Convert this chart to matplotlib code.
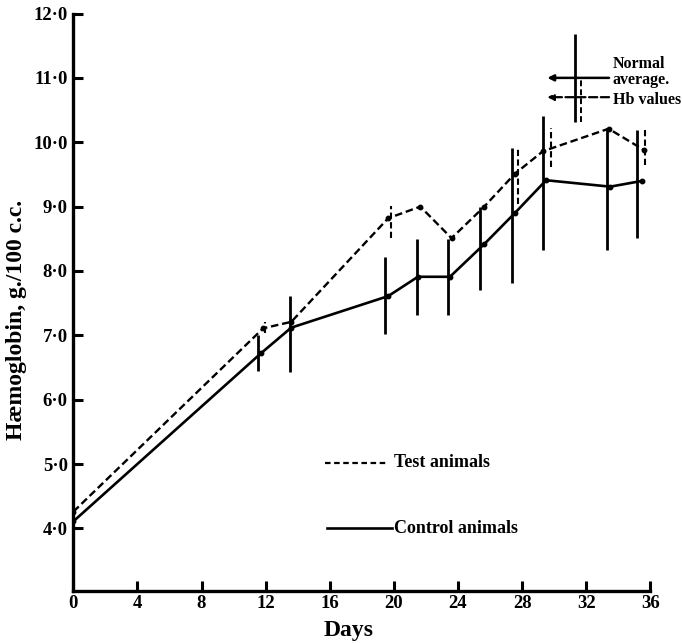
import matplotlib.pyplot as plt

# days and haemoglobin (g./100 c.c.)
control_days = [0, 11.7, 13.6, 19.65, 21.5, 23.5, 25.65, 27.55, 29.5, 33.5, 35.5]
control_hb = [4.11, 6.72, 7.12, 7.61, 7.91, 7.91, 8.42, 8.90, 9.41, 9.31, 9.40]

test_days = [0, 11.85, 13.6, 19.65, 21.65, 23.6, 25.6, 27.55, 29.3, 33.4, 35.6]
test_hb = [4.26, 7.11, 7.21, 8.82, 9.00, 8.51, 8.99, 9.51, 9.86, 10.21, 9.88]

# ranges (vertical bars)
control_bar_days = [11.55, 13.55, 19.45, 21.45, 23.4, 25.4, 27.4, 29.3, 33.3, 35.2]
control_bar_low = [6.44, 6.43, 7.02, 7.31, 7.32, 7.71, 7.82, 8.33, 8.32, 8.51]
control_bar_high = [7.01, 7.61, 8.21, 8.49, 8.49, 9.00, 9.91, 10.40, 10.22, 10.19]

test_bar_days = [11.95, 19.85, 27.75, 29.8, 35.7]
test_bar_low = [7.04, 8.51, 9.04, 9.62, 9.65]
test_bar_high = [7.21, 9.01, 9.91, 10.22, 10.19]

# normal average Hb values
normal_control = 11.0
normal_control_range = (10.31, 11.68)
normal_test = 10.7
normal_test_range = (10.31, 10.99)

x_ticks = [0, 4, 8, 12, 16, 20, 24, 28, 32, 36]
y_ticks = [4, 5, 6, 7, 8, 9, 10, 11, 12]

font = 'Liberation Serif'
dash = (0, (3.2, 1.6))

fig = plt.figure(figsize=(6.82, 6.43), dpi=100)
ax = fig.add_axes([0.1075, 0.081, 0.846, 0.898])

ax.plot(control_days, control_hb, color='black', lw=1.9, marker='o', ms=3.2)
ax.plot(test_days, test_hb, color='black', lw=1.7, ls=dash, marker='o', ms=3.2)
ax.vlines(control_bar_days, control_bar_low, control_bar_high, color='black', lw=2.0)
ax.vlines(test_bar_days, test_bar_low, test_bar_high, color='black', lw=1.5,
          linestyles=[(0, (3, 1.6))])

# normal average marker
ax.vlines(31.3, *normal_control_range, color='black', lw=2.0)
ax.vlines(31.7, *normal_test_range, color='black', lw=1.4, linestyles=[(0, (3, 1.6))])
ax.annotate('', xy=(29.4, normal_control), xytext=(33.6, normal_control),
            arrowprops=dict(arrowstyle='-|>', lw=1.8, color='black', mutation_scale=9))
ax.annotate('', xy=(29.4, normal_test), xytext=(33.6, normal_test),
            arrowprops=dict(arrowstyle='-|>', lw=1.6, ls='--', color='black', mutation_scale=9))
ax.text(33.65, 11.22, 'Normal', fontsize=11.5, fontweight='bold', family=font, va='center')
ax.text(33.65, 10.96, 'average.', fontsize=11.5, fontweight='bold', family=font, va='center')
ax.text(33.65, 10.66, 'Hb values', fontsize=11.5, fontweight='bold', family=font, va='center')

# legend drawn as in the original
ax.plot([15.7, 19.6], [5.02, 5.02], color='black', lw=1.6, ls=(0, (2.5, 1.6)))
ax.text(20.0, 5.02, 'Test animals', fontsize=13, fontweight='bold', family=font, va='center')
ax.plot([15.8, 19.9], [4.0, 4.0], color='black', lw=1.9)
ax.text(20.0, 4.0, 'Control animals', fontsize=13, fontweight='bold', family=font, va='center')

ax.set_xlim(0, 36)
ax.set_ylim(3.03, 12)
ax.set_xticks(x_ticks)
ax.set_xticklabels([str(t) for t in x_ticks], fontsize=13.5, fontweight='bold', family=font)
ax.set_yticks(y_ticks)
ax.set_yticklabels(['%d\u00b70' % t for t in y_ticks], fontsize=13.5, fontweight='bold', family=font)
ax.tick_params(direction='in', length=7, width=2.2)
ax.tick_params(axis='y', pad=4)
ax.tick_params(axis='x', pad=3)

for s in ['top', 'right']:
    ax.spines[s].set_visible(False)
for s in ['left', 'bottom']:
    ax.spines[s].set_linewidth(2.4)

ax.set_xlabel('Days', fontsize=17, fontweight='bold', family=font)
ax.set_ylabel('H\u00e6moglobin, g./100 c.c.', fontsize=17, fontweight='bold', family=font)
ax.xaxis.set_label_coords(0.478, -0.05)
ax.yaxis.set_label_coords(-0.08, 0.47)

fig.savefig('out.png', dpi=100)
